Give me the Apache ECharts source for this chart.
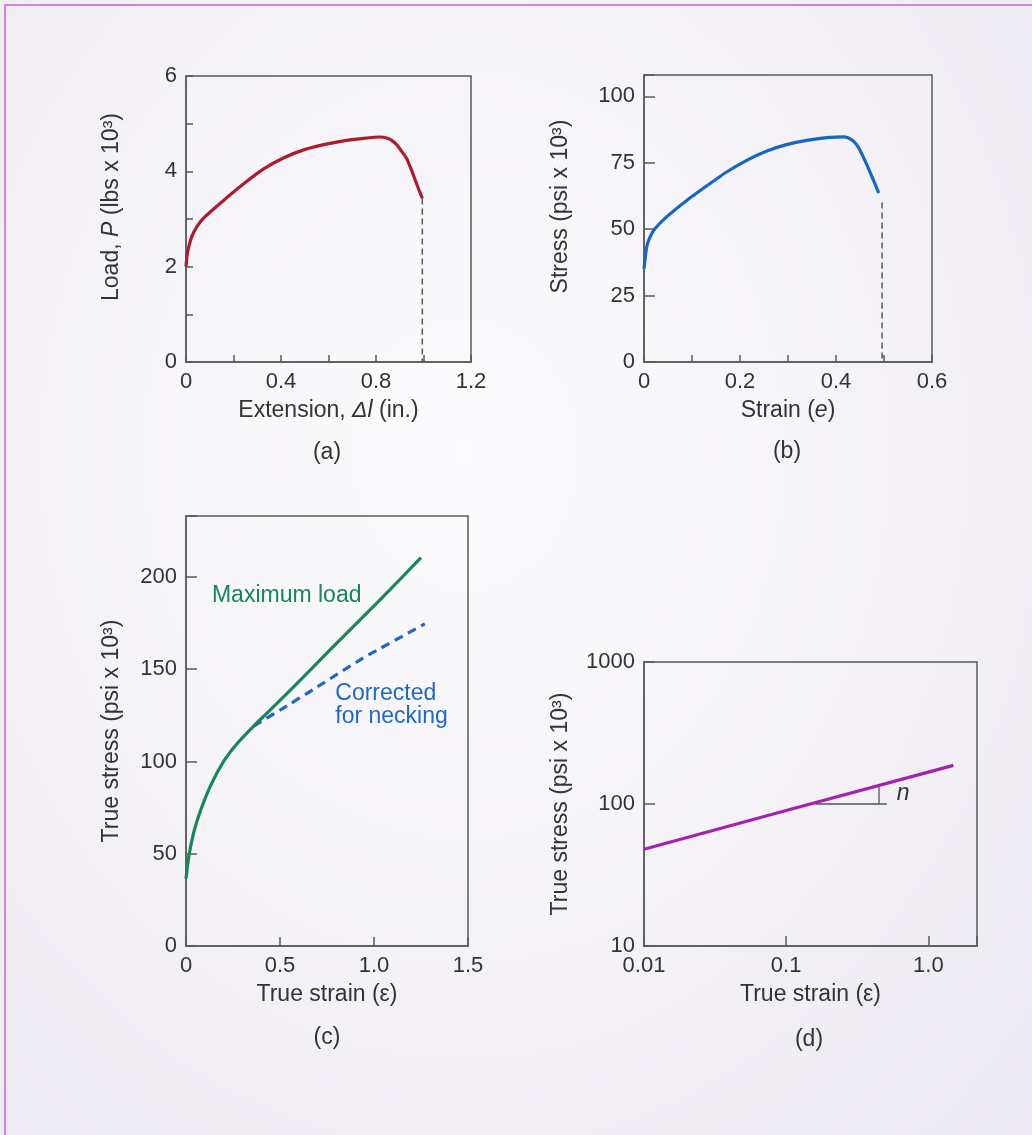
<!DOCTYPE html>
<html>
<head>
<meta charset="utf-8">
<script src="https://cdn.jsdelivr.net/npm/echarts@6/dist/echarts.min.js"></script>
<style>
  body { margin: 0; background: #f4f2f6; }
  #wrap { position: relative; width: 1032px; height: 1135px; overflow: hidden;
    background: radial-gradient(ellipse at 45% 40%, #fbfafc 0%, #f4f2f7 55%, #ebe8f0 100%); }
  #main { position: absolute; left: 0; top: 0; width: 1032px; height: 1135px; }
  .edge { position: absolute; background: #c98ad6; }
</style>
</head>
<body>
<div id="wrap">
  <div class="edge" style="left:4px;top:4px;width:1028px;height:2px"></div>
  <div class="edge" style="left:4px;top:4px;width:2px;height:1131px"></div>
  <div id="main"></div>
</div>
<script>
// (a) load vs extension
var extX = [0, 0.004, 0.011, 0.025, 0.046, 0.074, 0.158, 0.243, 0.327, 0.41, 0.495, 0.58, 0.663, 0.747, 0.817, 0.845, 0.866, 0.887, 0.908, 0.929, 0.95, 0.971, 0.995];
var loadP = [2.0, 2.22, 2.4, 2.64, 2.84, 3.02, 3.39, 3.74, 4.05, 4.28, 4.45, 4.56, 4.64, 4.69, 4.72, 4.70, 4.65, 4.56, 4.42, 4.27, 4.02, 3.74, 3.43];
var extBreakX = [0.995, 0.995];
var extBreakY = [3.43, 0];
// (b) engineering stress vs strain
var strainX = [0, 0.002, 0.0056, 0.0125, 0.023, 0.047, 0.089, 0.131, 0.172, 0.214, 0.256, 0.297, 0.339, 0.381, 0.416, 0.426, 0.437, 0.447, 0.457, 0.468, 0.478, 0.489];
var stressY = [35.1, 38.3, 43.3, 47, 50.2, 54.6, 60.8, 66.3, 71.5, 75.9, 79.4, 81.8, 83.4, 84.4, 84.7, 84.3, 83.0, 80.7, 77.1, 72.7, 68.4, 63.6];
var strainBreakX = [0.496, 0.496];
var strainBreakY = [60, 0];
// (c) true stress vs true strain
var trueX = [0, 0.014, 0.041, 0.076, 0.129, 0.2, 0.271, 0.36, 0.431, 0.555, 0.766, 1.032, 1.25];
var trueY = [36.5, 48, 61.5, 73, 86.5, 100, 109.6, 119.2, 126.2, 138.6, 160.4, 187.5, 210.5];
var corrX = [0.36, 0.5, 0.7, 0.941, 1.27];
var corrY = [119.2, 127.8, 140.5, 156, 174.5];
// (d) log-log
var logX = [0.01, 0.1, 1.5];
var logY = [48, 90, 187];
var slopeHX = [0.16, 0.51];
var slopeHY = [100, 100];
var slopeVX = [0.45, 0.45];
var slopeVY = [100, 134];

var FONT = '"Liberation Sans", Arial, Helvetica, sans-serif';
var TXT = '#333';
var AX = '#5a5a5a';
var TICK_FS = 22;
var NAME_FS = 23;

function zip(xs, ys) {
  return xs.map(function (x, i) { return [x, ys[i]]; });
}

var rich = {
  i: { fontStyle: 'italic', fontSize: NAME_FS, fontFamily: FONT, color: TXT }
};

function axis(idx, type, opts, tickLen, fmt) {
  var a = {
    gridIndex: idx,
    type: type,
    axisLine: { show: true, lineStyle: { color: AX, width: 1.5 } },
    axisTick: { show: true, inside: true, length: tickLen, lineStyle: { color: AX, width: 1.5 } },
    splitLine: { show: false },
    minorTick: { show: false },
    axisLabel: { formatter: fmt, color: TXT, fontSize: TICK_FS, fontFamily: FONT, margin: 9 },
    nameLocation: 'middle',
    nameTextStyle: { color: TXT, fontSize: NAME_FS, fontFamily: FONT, rich: rich }
  };
  for (var k in opts) a[k] = opts[k];
  return a;
}

function dec(step, every) {
  return function (v) {
    var k = v / step;
    if (Math.abs(k - Math.round(k)) > 1e-6) return '';
    return Math.round(k) % every === 0 ? String(v) : '';
  };
}
function oneDec(v) { return v === 0 ? '0' : v.toFixed(1); }
function logFmt(v) {
  var l = Math.log10(v);
  if (Math.abs(l - Math.round(l)) > 1e-6) return '';
  return String(v);
}
function logFmtX(v) {
  var l = Math.log10(v);
  if (Math.abs(l - Math.round(l)) > 1e-6) return '';
  return v >= 1 ? v.toFixed(1) : String(v);
}

function curve(xi, data, color, width, dashed, smooth) {
  return {
    type: 'line', xAxisIndex: xi, yAxisIndex: xi, data: data,
    showSymbol: false, symbol: 'none', smooth: smooth || false,
    lineStyle: { color: color, width: width, type: dashed ? dashed : 'solid' },
    silent: true, z: 3
  };
}

function note(xi, x, y, text, color, style) {
  return {
    type: 'scatter', xAxisIndex: xi, yAxisIndex: xi,
    data: [[x, y]], symbolSize: 1, itemStyle: { color: 'rgba(0,0,0,0)', opacity: 1 }, silent: true,
    label: {
      show: true, position: 'inside', formatter: text, align: 'left', verticalAlign: 'middle', opacity: 1,
      color: color, fontSize: NAME_FS, fontFamily: FONT, lineHeight: 23, fontStyle: style || 'normal'
    }
  };
}

function panelLabel(x, y, t) {
  return { type: 'text', x: x, y: y, style: { text: t, fill: TXT, font: NAME_FS + 'px ' + FONT, align: 'center', verticalAlign: 'middle' } };
}

var chart = echarts.init(document.getElementById('main'));
chart.setOption({
  animation: false,
  grid: [
    { left: 186, top: 76, width: 285, height: 286, show: true, borderColor: AX, borderWidth: 1.5 },
    { left: 644, top: 75, width: 288, height: 287, show: true, borderColor: AX, borderWidth: 1.5 },
    { left: 186, top: 516, width: 282, height: 430, show: true, borderColor: AX, borderWidth: 1.5 },
    { left: 644, top: 662, width: 333, height: 284, show: true, borderColor: AX, borderWidth: 1.5 }
  ],
  xAxis: [
    axis(0, 'value', { min: 0, max: 1.2, interval: 0.2, name: 'Extension, {i|\u0394l} (in.)', nameGap: 37 }, 7, dec(0.2, 2)),
    axis(1, 'value', { min: 0, max: 0.6, interval: 0.1, name: 'Strain ({i|e})', nameGap: 37 }, 7, dec(0.1, 2)),
    axis(2, 'value', { min: 0, max: 1.5, interval: 0.5, name: 'True strain (\u03b5)', nameGap: 37 }, 9, oneDec),
    axis(3, 'log', { min: 0.01, max: 2.2, logBase: 10, name: 'True strain (\u03b5)', nameGap: 37 }, 10, logFmtX)
  ],
  yAxis: [
    axis(0, 'value', { min: 0, max: 6, interval: 1, name: 'Load, {i|P} (lbs x 10\u00b3)', nameGap: 63,
      nameTextStyle: { color: TXT, fontSize: NAME_FS, fontFamily: FONT, rich: rich, padding: [0, 0, 0, 24] } }, 7, dec(1, 2)),
    axis(1, 'value', { min: 0, max: 108, interval: 25, name: 'Stress (psi x 10\u00b3)', nameGap: 72,
      nameTextStyle: { color: TXT, fontSize: NAME_FS, fontFamily: FONT, rich: rich, padding: [0, 0, 0, 24] } }, 11, dec(25, 1)),
    axis(2, 'value', { min: 0, max: 233, interval: 50, name: 'True stress (psi x 10\u00b3)', nameGap: 63 }, 11, dec(50, 1)),
    axis(3, 'log', { min: 10, max: 1000, logBase: 10, name: 'True stress (psi x 10\u00b3)', nameGap: 72 }, 11, logFmt)
  ],
  series: [
    curve(0, zip(extX, loadP), '#ad1c2c', 3.2, null, 0.15),
    curve(0, zip(extBreakX, extBreakY), '#555', 1.5, [6, 4]),
    curve(1, zip(strainX, stressY), '#1767c2', 3.2, null, 0.15),
    curve(1, zip(strainBreakX, strainBreakY), '#555', 1.5, [6, 4]),
    curve(2, zip(corrX, corrY), '#1f68c8', 3.2, [9, 6], 0.15),
    curve(2, zip(trueX, trueY), '#16875a', 3.2, null, 0.15),
    note(2, 0.138, 190, 'Maximum load', '#16875a'),
    note(2, 0.794, 130.3, 'Corrected\nfor necking', '#1f68c8'),
    curve(3, zip(slopeHX, slopeHY), '#555', 1.3),
    curve(3, zip(slopeVX, slopeVY), '#555', 1.3),
    curve(3, zip(logX, logY), '#a223ad', 3.2),
    note(3, 0.6, 118, 'n', '#333', 'italic')
  ],
  graphic: [
    panelLabel(327, 453, '(a)'),
    panelLabel(787, 452, '(b)'),
    panelLabel(327, 1038, '(c)'),
    panelLabel(809, 1040, '(d)')
  ]
});
</script>
</body>
</html>
